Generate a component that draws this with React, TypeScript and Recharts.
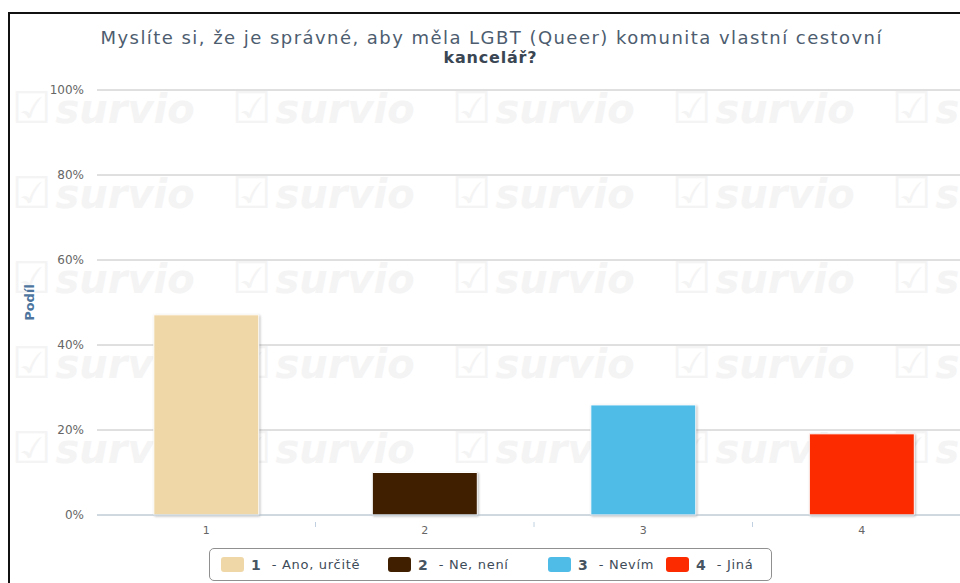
import React from "react";
import { Bar, BarChart, CartesianGrid, Cell, XAxis, YAxis } from "recharts";

const categories = ["1", "2", "3", "4"];
const answers = ["Ano, určitě", "Ne, není", "Nevím", "Jiná"];
const shares = [47.1, 10, 25.9, 19.1];
const colors = ["#F0D7A7", "#3F1F00", "#4FBCE8", "#FC2B00"];
const yTicks = [0, 20, 40, 60, 80, 100];

const titleLine1 = "Myslíte si, že je správné, aby měla LGBT (Queer) komunita vlastní cestovní";
const titleLine2 = "kancelář?";

const data = categories.map((c, i) => ({ name: c, value: shares[i] }));

const FONT = "'DejaVu Sans', Verdana, sans-serif";
const PLOT_WIDTH = 874;
const BAND = PLOT_WIDTH / categories.length;
// where each legend item starts (px)
const legendItemX = [11, 178, 338, 456];

const XTick = (props: any) => {
  const { x, y, payload, index } = props;
  return (
    <g>
      {index > 0 && (
        <line x1={x - BAND / 2} x2={x - BAND / 2} y1={y - 1} y2={y + 4} stroke="#C0D0E0" />
      )}
      <text x={x} y={y + 11} textAnchor="middle" fill="#666" fontSize={11} fontFamily={FONT}>
        {payload.value}
      </text>
    </g>
  );
};

const Watermark = () => {
  const cols = [0, 1, 2, 3, 4];
  const rows = [0, 1, 2, 3, 4];
  return (
    <div style={{ position: "absolute", left: 0, top: 80, width: 960, height: 420, overflow: "hidden" }}>
      {rows.map((r) =>
        cols.map((c) => (
          <div
            key={`${r}-${c}`}
            style={{
              position: "absolute",
              left: 12 + c * 220,
              top: r * 85 + 4,
              color: "#f4f4f4",
              fontFamily: FONT,
              whiteSpace: "nowrap",
              lineHeight: "48px",
            }}
          >
            <span style={{ fontSize: 44 }}>☑</span>
            <span style={{ fontSize: 40, fontWeight: "bold", fontStyle: "italic", marginLeft: 4 }}>survio</span>
          </div>
        ))
      )}
    </div>
  );
};

const App = () => {
  return (
    <div
      style={{
        position: "fixed",
        left: 0,
        top: 0,
        width: 960,
        height: 583,
        overflow: "hidden",
        background: "#fff",
        fontFamily: FONT,
      }}
    >
      <div
        style={{
          position: "absolute",
          left: 8,
          top: 12,
          width: 1100,
          height: 700,
          borderLeft: "2px solid #111",
          borderTop: "2px solid #111",
        }}
      />
      <Watermark />
      <svg style={{ position: "absolute", left: 0, top: 0 }} width={960} height={80}>
        <text
          x={491}
          y={44}
          textAnchor="middle"
          fontSize={18}
          fill="#4d5d6f"
          fontFamily={FONT}
          textLength={781}
          lengthAdjust="spacing"
        >
          {titleLine1}
        </text>
        <text
          x={490}
          y={63}
          textAnchor="middle"
          fontSize={16}
          fontWeight="bold"
          fill="#3a4653"
          fontFamily={FONT}
          textLength={93}
          lengthAdjust="spacing"
        >
          {titleLine2}
        </text>
      </svg>
      <div style={{ position: "absolute", left: 0, top: 0 }}>
        <BarChart
          width={1010}
          height={583}
          data={data}
          margin={{ top: 90, right: 39, bottom: 38, left: 0 }}
          barCategoryGap="26%"
        >
          <CartesianGrid vertical={false} stroke="#C0C0C0" />
          <XAxis
            dataKey="name"
            height={30}
            stroke="#C0D0E0"
            tickLine={false}
            tick={<XTick />}
            interval={0}
          />
          <YAxis
            width={97}
            domain={[0, 100]}
            ticks={yTicks}
            axisLine={false}
            tickLine={false}
            tickSize={0}
            tickMargin={13}
            tickFormatter={(v: number) => `${v}%`}
            tick={{ fill: "#666", fontSize: 12, fontFamily: FONT }}
            label={{
              value: "Podíl",
              angle: -90,
              position: "insideLeft",
              offset: 29,
              style: { fill: "#4D759E", fontWeight: "bold", fontSize: 13, fontFamily: FONT, textAnchor: "middle" },
            }}
          />
          <Bar
            dataKey="value"
            isAnimationActive={false}
            stroke="#fff"
            strokeWidth={1}
            style={{ filter: "drop-shadow(1px 1px 1px rgba(0,0,0,0.25))" }}
          >
            {data.map((d, i) => (
              <Cell key={`cell-${i}`} fill={colors[i]} />
            ))}
          </Bar>
        </BarChart>
      </div>
      <div
        style={{
          position: "absolute",
          left: 209,
          top: 548,
          width: 563,
          height: 33,
          border: "1px solid #909090",
          borderRadius: 5,
          boxSizing: "border-box",
          fontSize: 13,
          color: "#3E4B58",
          whiteSpace: "nowrap",
        }}
      >
        {categories.map((c, i) => (
          <div
            key={c}
            style={{
              position: "absolute",
              left: legendItemX[i],
              top: 0,
              height: 31,
              display: "flex",
              alignItems: "center",
            }}
          >
            <span
              style={{
                display: "inline-block",
                width: 23,
                height: 15,
                borderRadius: 3,
                background: colors[i],
                marginRight: 7,
              }}
            />
            <span style={{ fontWeight: "bold", fontSize: 14, color: "#475461" }}>{c}</span>
            <span style={{ marginLeft: 11, letterSpacing: 0.7 }}>- {answers[i]}</span>
          </div>
        ))}
      </div>
    </div>
  );
};

export default App;
